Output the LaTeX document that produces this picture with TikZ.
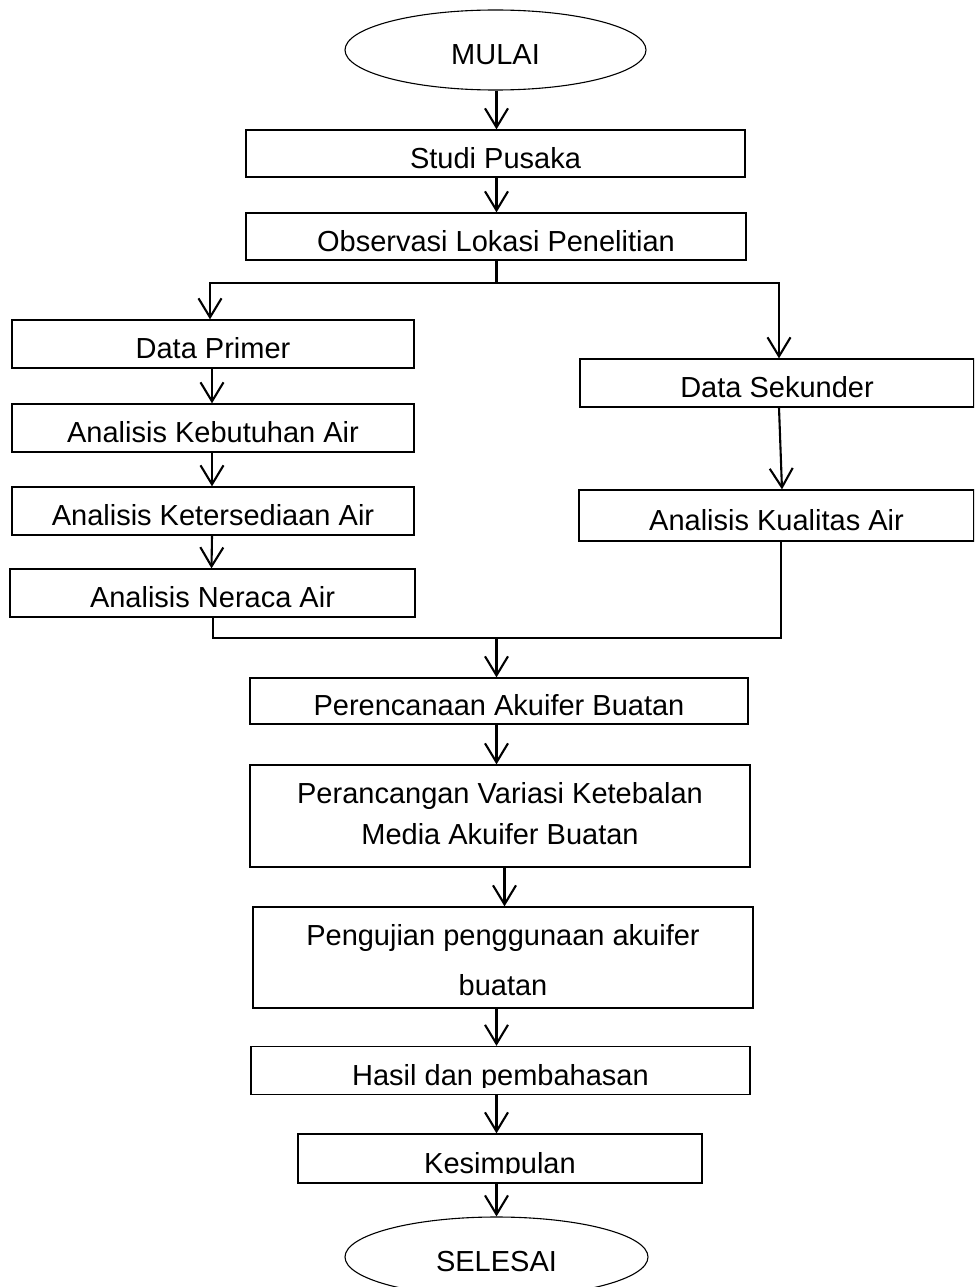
\documentclass[tikz,border=0pt]{standalone}
\usepackage{fontspec}
\setmainfont{Liberation Sans}
\usetikzlibrary{arrows.meta,shapes.geometric}
\begin{document}
\begin{tikzpicture}[x=1pt,y=-1pt,
  font=\fontsize{29}{35}\selectfont,
  oneline/.style={text height=30pt, text depth=1pt},
  box/.style={draw, line width=1.3pt, rectangle, inner sep=0pt, align=center},
  term/.style={draw, line width=1.1pt, ellipse, inner sep=0pt, oneline},
  txt/.style={inner sep=0pt, align=center},
  arr/.style={line width=2.1pt, -{Straight Barb[length=19pt,width=23pt]}},
  ln/.style={line width=2.1pt}]
\useasboundingbox (0,0) rectangle (974,1287);
\fill[white] (0,0) rectangle (974,1287);
\clip (0,0) rectangle (974,1287);

% start and end
\node[term, minimum width=301pt, minimum height=80pt] (mulai) at (495.5,50) {MULAI};
\node[term, minimum width=303pt, minimum height=80pt] (selesai) at (496.5,1257) {SELESAI};

% upper column
\node[box, oneline, minimum width=499pt, minimum height=47pt] (studi) at (495.5,153.5) {Studi Pusaka};
\node[box, oneline, minimum width=500pt, minimum height=47pt] (obs) at (496,236.5) {Observasi Lokasi Penelitian};

% left branch
\node[box, oneline, minimum width=402pt, minimum height=48pt] (primer) at (213,344) {Data Primer};
\node[box, oneline, minimum width=402pt, minimum height=48pt] (kebutuhan) at (213,428) {Analisis Kebutuhan Air};
\node[box, oneline, minimum width=402pt, minimum height=48pt] (ketersediaan) at (213,511) {Analisis Ketersediaan Air};
\node[box, oneline, minimum width=405pt, minimum height=48pt] (neraca) at (212.5,593) {Analisis Neraca Air};

% right branch
\node[box, oneline, minimum width=394pt, minimum height=48pt] (sekunder) at (777,383) {Data Sekunder};
\node[box, oneline, minimum width=395pt, minimum height=51pt] (kualitas) at (776.5,515.5) {Analisis Kualitas Air};

% lower column
\node[box, oneline, minimum width=498pt, minimum height=46pt] (perencanaan) at (499,701) {Perencanaan Akuifer Buatan};
\node[box, minimum width=500pt, minimum height=102pt] (perancangan) at (500,816) {};
\node[txt] (perancangantxt) at ([yshift=2.5pt]perancangan.center) {Perancangan Variasi Ketebalan\\[6pt]Media Akuifer Buatan};
\node[box, minimum width=500pt, minimum height=101pt] (pengujian) at (503,957.5) {};
\node[txt] (pengujiantxt) at ([yshift=-2.5pt]pengujian.center) {Pengujian penggunaan akuifer\\[15pt]buatan};
\node[box, minimum width=499pt, minimum height=48pt] (hasil) at (500.5,1070.5) {};
\node[box, minimum width=404pt, minimum height=49pt] (kesimpulan) at (500,1158.5) {};

% labels of the two last boxes, cut off at their lower part
\begin{scope}
  \clip (hasil.north west) rectangle ([yshift=8pt]hasil.south east);
  \node[txt, oneline] (hasiltxt) at (hasil.center) {Hasil dan pembahasan};
\end{scope}
\begin{scope}
  \clip (kesimpulan.north west) rectangle ([yshift=10pt]kesimpulan.south east);
  \node[txt, oneline] (kesimpulantxt) at (kesimpulan.center) {Kesimpulan};
\end{scope}

% junction points
\coordinate (sp) at (496.5,0);
\coordinate (jl) at (210,283);
\coordinate (jr) at (779,283);
\coordinate (jm) at (496.5,638);
\coordinate (jk) at (781,638);

% connectors
\draw[arr] (mulai.south -| sp) -- (studi.north -| sp);
\draw[arr] (studi.south -| sp) -- (obs.north -| sp);
\draw[arr] (obs.south -| sp) |- (jl) -- (jl |- primer.north);
\draw[arr] (sp |- jl) -- (jr) -- (jr |- sekunder.north);

\draw[arr] ([xshift=-1pt]primer.south) -- ([xshift=-1pt]kebutuhan.north);
\draw[arr] ([xshift=-1pt]kebutuhan.south) -- ([xshift=-1pt]ketersediaan.north);
\draw[arr] ([xshift=-1pt]ketersediaan.south) -- ([xshift=-1pt]neraca.north);
\draw[arr] (sekunder.south -| jr) -- ([xshift=3pt]kualitas.north -| jr);

\draw[ln] ([xshift=0.5pt]neraca.south) |- (jk) -- (jk |- kualitas.south);
\draw[arr] (jm) -- (perencanaan.north -| sp);
\draw[arr] (perencanaan.south -| sp) -- (perancangan.north -| sp);
\draw[arr] ([xshift=8pt]perancangan.south -| sp) -- ([xshift=8pt]pengujian.north -| sp);
\draw[arr] (pengujian.south -| sp) -- (hasil.north -| sp);
\draw[arr] (hasil.south -| sp) -- (kesimpulan.north -| sp);
\draw[arr] (kesimpulan.south -| sp) -- (selesai.north -| sp);
\end{tikzpicture}
\end{document}
